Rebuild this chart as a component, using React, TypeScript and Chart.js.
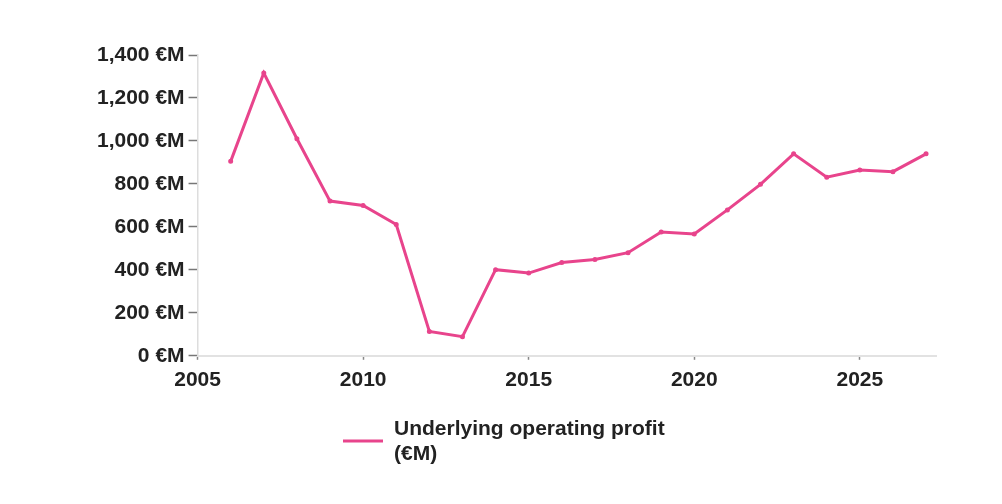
import React, { useEffect, useRef } from "react";
import { Chart, registerables } from "chart.js";

Chart.register(...registerables);

const years = [2006, 2007, 2008, 2009, 2010, 2011, 2012, 2013, 2014, 2015, 2016, 2017, 2018, 2019, 2020, 2021, 2022, 2023, 2024, 2025, 2026, 2027];
const profit = [905, 1316, 1010, 720, 700, 611, 113, 89, 401, 385, 434, 448, 480, 576, 567, 679, 798, 940, 831, 865, 857, 940];
const yTickValues = [0, 200, 400, 600, 800, 1000, 1200, 1400];
const xTickValues = [2005, 2010, 2015, 2020, 2025];
const legendLines = ["Underlying operating profit", "(€M)"];

const LINE_COLOR = "#e8448c";
const TEXT_COLOR = "#222222";
const FONT_FAMILY = "'Liberation Sans', Arial, sans-serif";

const legendPlugin = {
  id: "customLegend",
  afterDraw(chart: any) {
    const ctx = chart.ctx as CanvasRenderingContext2D;
    ctx.save();
    ctx.strokeStyle = LINE_COLOR;
    ctx.lineWidth = 3;
    ctx.beginPath();
    ctx.moveTo(343, 441);
    ctx.lineTo(383, 441);
    ctx.stroke();
    ctx.fillStyle = TEXT_COLOR;
    ctx.font = `bold 21px ${FONT_FAMILY}`;
    ctx.textBaseline = "alphabetic";
    ctx.textAlign = "left";
    ctx.fillText(legendLines[0], 394, 435);
    ctx.fillText(legendLines[1], 394, 460);
    ctx.restore();
  },
};

export default function App() {
  const canvasRef = useRef<HTMLCanvasElement | null>(null);

  useEffect(() => {
    document.body.style.margin = "0";
    const canvas = canvasRef.current;
    if (!canvas) return;
    const chart = new Chart(canvas, {
      type: "line",
      data: {
        datasets: [
          {
            label: legendLines.join(" "),
            data: years.map((y, i) => ({ x: y, y: profit[i] })),
            borderColor: LINE_COLOR,
            backgroundColor: LINE_COLOR,
            borderWidth: 3,
            pointRadius: 1,
            pointHoverRadius: 1,
            tension: 0,
          },
        ],
      },
      options: {
        responsive: false,
        animation: false,
        devicePixelRatio: 1,
        layout: { padding: { left: 93, top: 55, right: 66, bottom: 103 } },
        plugins: {
          legend: { display: false },
          tooltip: { enabled: false },
        },
        scales: {
          x: {
            type: "linear",
            min: 2005,
            max: 2027.3,
            afterBuildTicks: (axis: any) => {
              axis.ticks = xTickValues.map((v) => ({ value: v }));
            },
            grid: {
              drawOnChartArea: false,
              drawTicks: true,
              tickLength: 4,
              color: "#888888",
              tickWidth: 1.5,
            },
            border: { display: true, color: "#e2e2e2", width: 2 },
            ticks: {
              padding: 8,
              color: TEXT_COLOR,
              font: { family: FONT_FAMILY, size: 21, weight: "bold" },
              maxRotation: 0,
              callback: (v: any) => String(v),
            },
          },
          y: {
            type: "linear",
            min: 0,
            max: 1400,
            afterBuildTicks: (axis: any) => {
              axis.ticks = yTickValues.map((v) => ({ value: v }));
            },
            grid: {
              drawOnChartArea: false,
              drawTicks: true,
              tickLength: 9,
              color: "#777777",
              tickWidth: 1.5,
            },
            border: { display: true, color: "#dddddd", width: 1.5 },
            ticks: {
              padding: 4,
              color: TEXT_COLOR,
              font: { family: FONT_FAMILY, size: 21, weight: "bold" },
              callback: (v: any) => `${Number(v).toLocaleString("en-US")} €M`,
            },
          },
        },
      },
      plugins: [legendPlugin],
    });
    return () => chart.destroy();
  }, []);

  return (
    <div style={{ width: 1002, height: 504, position: "relative", background: "#ffffff" }}>
      <canvas ref={canvasRef} width={1002} height={504} style={{ display: "block" }} />
    </div>
  );
}
